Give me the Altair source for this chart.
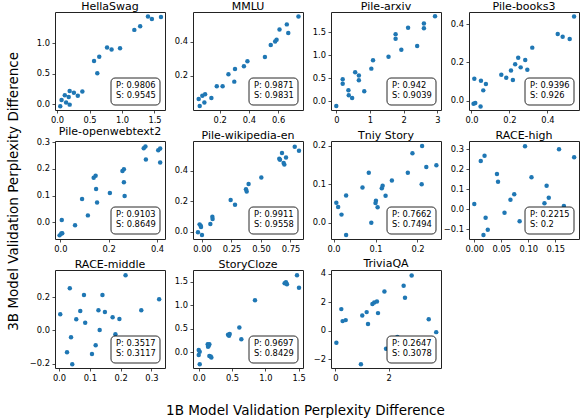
import altair as alt
import pandas as pd

W, H = 110, 98
FONT = "DejaVu Sans"
BLUE = "#1f77b4"

names = ["HellaSwag", "MMLU", "Pile-arxiv", "Pile-books3",
         "Pile-openwebtext2", "Pile-wikipedia-en", "Tniy Story", "RACE-high",
         "RACE-middle", "StoryCloze", "TriviaQA"]
pearson = [0.9806, 0.9871, 0.942, 0.9396, 0.9103, 0.9911, 0.7662, 0.2215, 0.3517, 0.9697, 0.2647]
spearman = [0.9545, 0.9831, 0.9039, 0.926, 0.8649, 0.9558, 0.7494, 0.2, 0.3117, 0.8429, 0.3078]

hellaswag_x = [0.05, 0.07, 0.12, 0.14, 0.18, 0.195, 0.195, 0.26, 0.32, 0.39, 0.57, 0.62, 0.65, 0.77, 0.84, 0.97, 1.19, 1.28, 1.40, 1.46, 1.60]
hellaswag_y = [-0.03, 0.07, 0.15, 0.03, 0.12, 0.22, -0.005, 0.19, 0.14, 0.21, 0.71, 0.51, 0.78, 0.93, 0.90, 0.92, 1.22, 1.28, 1.44, 1.40, 1.43]

mmlu_x = [0.056, 0.063, 0.081, 0.10, 0.095, 0.143, 0.18, 0.22, 0.26, 0.305, 0.30, 0.366, 0.39, 0.51, 0.55, 0.58, 0.59, 0.61, 0.66, 0.67, 0.74]
mmlu_y = [0.066, 0.025, 0.085, 0.093, 0.045, 0.072, 0.14, 0.14, 0.21, 0.24, 0.167, 0.256, 0.285, 0.31, 0.38, 0.40, 0.41, 0.47, 0.50, 0.45, 0.546]

arxiv_x = [0.0, 0.19, 0.19, 0.36, 0.37, 0.47, 0.56, 0.67, 0.67, 0.83, 1.04, 1.09, 1.55, 1.76, 1.76, 1.93, 2.13, 2.40, 2.60, 2.60, 2.93]
arxiv_y = [-0.10, 0.48, 0.38, 0.24, 0.13, 0.07, 0.63, 0.56, 0.46, 0.22, 0.71, 0.89, 0.97, 1.46, 1.36, 1.12, 1.60, 1.20, 1.69, 1.59, 1.85]

books3_x = [0.011, 0.02, 0.015, 0.048, 0.05, 0.062, 0.076, 0.157, 0.183, 0.208, 0.218, 0.23, 0.246, 0.259, 0.283, 0.294, 0.32, 0.454, 0.48, 0.517, 0.54]
books3_y = [-0.016, -0.012, 0.115, -0.03, 0.104, 0.054, 0.087, 0.136, 0.12, 0.158, 0.108, 0.19, 0.224, 0.174, 0.212, 0.162, 0.277, 0.348, 0.334, 0.322, 0.44]

owt2_x = [-0.003, 0.004, 0.008, 0.006, 0.061, 0.09, 0.114, 0.138, 0.146, 0.148, 0.152, 0.205, 0.257, 0.263, 0.263, 0.266, 0.345, 0.352, 0.354, 0.405, 0.413, 0.413]
owt2_y = [-0.049, -0.042, -0.041, 0.009, -0.011, 0.0875, 0.026, 0.1675, 0.175, 0.125, 0.074, 0.11, 0.1925, 0.199, 0.15, 0.099, 0.2775, 0.284, 0.236, 0.27, 0.277, 0.224]

wiki_x = [-0.034, -0.02, -0.011, -0.008, 0.0, 0.071, 0.088, 0.09, 0.243, 0.28, 0.373, 0.379, 0.395, 0.503, 0.655, 0.661, 0.678, 0.692, 0.698, 0.712, 0.786, 0.822]
wiki_y = [-0.004, 0.048, 0.039, 0.031, -0.022, 0.05, 0.098, 0.083, 0.208, 0.177, 0.278, 0.264, 0.313, 0.356, 0.479, 0.472, 0.516, 0.45, 0.44, 0.487, 0.557, 0.531]

tiny_x = [0.0067, 0.011, 0.019, 0.03, 0.03, 0.069, 0.084, 0.09, 0.1, 0.101, 0.105, 0.115, 0.117, 0.124, 0.139, 0.177, 0.188, 0.21, 0.211, 0.221, 0.245]
tiny_y = [0.052, 0.041, 0.021, 0.071, -0.032, 0.092, 0.13, 0.0, 0.051, 0.057, 0.04, 0.09, 0.096, 0.07, 0.11, 0.13, 0.181, 0.1, 0.2, 0.145, 0.15]

race_high_x = [0.0, 0.012, 0.019, 0.017, 0.021, 0.025, 0.042, 0.044, 0.056, 0.067, 0.074, 0.084, 0.094, 0.106, 0.13, 0.134, 0.138, 0.157, 0.166, 0.185]
race_high_y = [0.027, 0.242, 0.268, -0.128, -0.042, -0.102, 0.177, 0.138, -0.017, 0.048, 0.075, -0.06, 0.315, 0.16, 0.03, 0.118, 0.058, 0.30, 0.017, 0.26]

race_mid_x = [0.004, 0.035, 0.026, 0.039, 0.043, 0.056, 0.069, 0.081, 0.085, 0.107, 0.119, 0.128, 0.132, 0.141, 0.149, 0.174, 0.183, 0.196, 0.216, 0.267, 0.325]
race_mid_y = [0.096, 0.252, -0.132, -0.042, -0.204, 0.066, 0.116, 0.212, 0.046, -0.142, -0.09, 0.12, 0.002, 0.212, 0.11, 0.078, -0.024, 0.068, 0.33, 0.12, 0.186]

story_x = [0.0, 0.0, 0.015, 0.015, 0.135, 0.15, 0.16, 0.14, 0.18, 0.19, 0.16, 0.44, 0.455, 0.465, 0.61, 0.64, 0.845, 1.29, 1.31, 1.325, 1.476, 1.506]
story_y = [0.05, -0.057, 0.014, -0.255, 0.17, 0.14, 0.17, 0.12, -0.09, -0.11, -0.08, 0.375, 0.35, 0.39, 0.53, 0.277, 1.106, 1.47, 1.49, 1.45, 1.64, 1.375]

trivia_x = [0.04, 0.225, 0.275, 0.39, 0.96, 1.01, 1.175, 1.225, 1.39, 1.46, 1.56, 1.6, 1.84, 1.9, 2.325, 2.56, 2.61, 2.86, 3.5, 3.78]
trivia_y = [-0.84, 1.51, 0.67, 0.74, -2.35, 1.07, 1.3, 0.465, 1.86, 1.98, 2.05, 1.23, 2.74, -1.26, -0.44, 3.14, 2.3, 3.86, 0.8, -0.1]

# per-panel axis setup: (x domain, y domain, x ticks, y ticks, x format, y format)
axes_setup = [
    ([-0.031, 1.662], [-0.093, 1.513], [0, 0.5, 1.0, 1.5], [0, 0.5, 1.0], ".1f", ".1f"),
    ([0.017, 0.771], [0.002, 0.572], [0.2, 0.4, 0.6], [0.2, 0.4], ".1f", ".1f"),
    ([-0.157, 3.107], [-0.189, 1.941], [0, 1, 2, 3], [0, 0.5, 1.0, 1.5], "d", ".1f"),
    ([-0.013, 0.566], [-0.0485, 0.463], [0, 0.2, 0.4], [0, 0.2, 0.4], ".1f", ".1f"),
    ([-0.022, 0.433], [-0.0626, 0.305], [0, 0.2, 0.4], [0, 0.1, 0.2, 0.3], ".1f", ".1f"),
    ([-0.076, 0.856], [-0.048, 0.595], [0, 0.25, 0.5, 0.75], [0, 0.2, 0.4], ".2f", ".1f"),
    ([-0.006, 0.256], [-0.0426, 0.213], [0, 0.1, 0.2], [0, 0.1, 0.2], ".1f", ".1f"),
    ([-0.0098, 0.194], [-0.1485, 0.3415], [0, 0.05, 0.1, 0.15], [-0.1, 0, 0.1, 0.2, 0.3], ".2f", ".1f"),
    ([-0.013, 0.344], [-0.226, 0.362], [0, 0.1, 0.2, 0.3], [-0.2, 0, 0.2], ".1f", ".1f"),
    ([-0.086, 1.566], [-0.334, 1.751], [0, 0.5, 1.0, 1.5], [0, 0.5, 1.0, 1.5], ".1f", ".1f"),
    ([-0.161, 3.959], [-2.608, 4.245], [0, 2], [-2, 0, 2, 4], "d", "d"),
]

series = [
    (hellaswag_x, hellaswag_y), (mmlu_x, mmlu_y), (arxiv_x, arxiv_y), (books3_x, books3_y),
    (owt2_x, owt2_y), (wiki_x, wiki_y), (tiny_x, tiny_y), (race_high_x, race_high_y),
    (race_mid_x, race_mid_y), (story_x, story_y), (trivia_x, trivia_y),
]

AXIS_STYLE = dict(
    title=None, grid=False, domain=False, ticks=True, tickSize=3, tickWidth=0.8,
    tickColor="#222", labelColor="black", labelFontSize=8.3, labelFont=FONT,
    labelPadding=2.5, labelOverlap=False, labelFlush=False, labelBound=False,
)


def panel(i):
    xs, ys = series[i]
    xdom, ydom, xt, yt, xf, yf = axes_setup[i]
    df = pd.DataFrame({"x": xs, "y": ys})
    pts = alt.Chart(df).mark_circle(size=20, color=BLUE, opacity=1).encode(
        x=alt.X("x:Q", scale=alt.Scale(domain=xdom, nice=False, zero=False),
                axis=alt.Axis(values=xt, format=xf, **AXIS_STYLE)),
        y=alt.Y("y:Q", scale=alt.Scale(domain=ydom, nice=False, zero=False),
                axis=alt.Axis(values=yt, format=yf, **AXIS_STYLE)),
    )
    lab = pd.DataFrame({"t": [f"P: {pearson[i]}\nS: {spearman[i]}"]})
    box = alt.Chart(lab).mark_rect(
        cornerRadius=4, fill="white", stroke="#111", strokeWidth=0.9
    ).encode(x=alt.value(W - 54), x2=alt.value(W - 5),
             y=alt.value(H - 32), y2=alt.value(H - 5))
    txt = alt.Chart(lab).mark_text(
        align="left", baseline="top", lineBreak="\n", lineHeight=9.7,
        fontSize=8.3, font=FONT, color="black"
    ).encode(x=alt.value(W - 49), y=alt.value(H - 29), text="t:N")
    return alt.layer(pts, box, txt).properties(
        width=W, height=H,
        title=alt.TitleParams(names[i], fontSize=11, font=FONT, fontWeight="normal",
                              color="black", offset=0, limit=400),
    )


grid = alt.concat(
    *[panel(i) for i in range(11)],
    columns=4, spacing={"row": 31, "column": 28}, bounds="flush",
    title=alt.TitleParams("3B Model Validation Perplexity Difference", orient="left",
                          anchor="middle", fontSize=13.5, font=FONT,
                          fontWeight="normal", color="black", offset=8),
)

chart = alt.vconcat(
    grid,
    title=alt.TitleParams("1B Model Validation Perplexity Difference", orient="bottom",
                          anchor="middle", fontSize=13.5, font=FONT,
                          fontWeight="normal", color="black", offset=22, dx=12),
).properties(
    padding={"left": 7, "top": 0, "right": 0, "bottom": 0},
).configure_view(stroke="#222", strokeWidth=1)

chart.save("out.html", embed_options={"renderer": "svg", "actions": False})
